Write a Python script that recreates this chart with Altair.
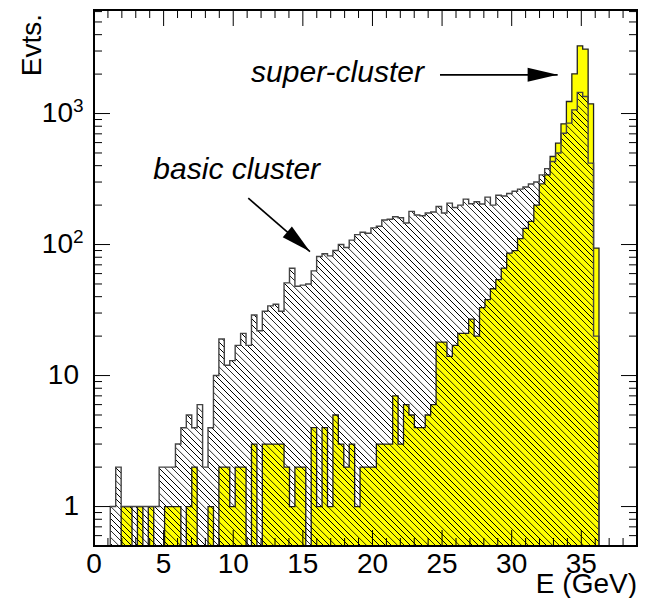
import math
import altair as alt
import pandas as pd

# ---------------- data ----------------
bin_width = 0.39          # GeV, 100 bins over [0, 39]
n_bins = 100

basic_cluster = [
    0, 0, 0, 1, 2, 1, 1, 1, 1, 1,
    1, 1, 2, 2, 2, 3, 4, 5, 4, 6,
    2, 4, 10, 19, 12, 13, 17, 21, 17, 29,
    22, 31, 34, 35, 31, 51, 66, 48, 49, 50,
    63, 81, 85, 82, 90, 100, 95, 108, 119, 124,
    122, 134, 138, 154, 156, 163, 160, 146, 179, 168,
    166, 174, 177, 195, 174, 207, 192, 200, 222, 205,
    212, 204, 230, 200, 238, 235, 245, 255, 265, 275,
    290, 300, 340, 380, 430, 500, 708, 845, 1067, 1450,
    1350, 418, 20,
]

super_cluster = [
    0, 0, 0, 0, 0, 1, 1, 0, 1, 0,
    1, 0, 0, 1, 1, 1, 0, 1, 2, 0,
    0, 1, 0, 2, 2, 1, 2, 2, 0, 3,
    0, 3, 3, 3, 3, 2, 1, 2, 2, 0,
    4, 1, 4, 1, 5, 3, 2, 3, 1, 2,
    2, 2, 3, 3, 3, 7, 3, 6, 5, 4,
    4, 5, 6, 18, 18, 14, 17, 21, 21, 27,
    20, 33, 38, 46, 54, 66, 86, 90, 111, 133,
    150, 200, 290, 340, 470, 594, 834, 1236, 2009, 3288,
    3103, 1186, 94,
]

x_ticks_major = [0, 5, 10, 15, 20, 25, 30, 35]
y_ticks_major = [1, 10, 100, 1000]

ann_text = ["super-cluster", "basic cluster"]
ann_text_x = [17.49, 10.25]
ann_text_y = [1755, 318]

arrow_x1 = [24.85, 11.08]
arrow_y1 = [1974, 226]
arrow_x2 = [33.3, 15.51]
arrow_y2 = [1974, 88.4]
arrow_angle = [0, 41]

x_title = "E (GeV)"
y_title = "Evts."

# ---------------- layout / scales ----------------
W, H = 543, 536
X_DOMAIN = [0, 39]
Y_MIN, Y_MAX = 0.5, 6170
FONT = "Liberation Sans"
FS = 28

xs = alt.Scale(domain=X_DOMAIN, nice=False, zero=False)
ys = alt.Scale(type="log", domain=[Y_MIN, Y_MAX], nice=False)


def hist_frame(counts):
    vals = list(counts) + [0] * (n_bins - len(counts))
    rows = [{"x": round(i * bin_width, 4), "v": (c if c > 0 else Y_MIN), "base": Y_MIN}
            for i, c in enumerate(vals)]
    rows.append({"x": X_DOMAIN[1], "v": Y_MIN, "base": Y_MIN})
    return pd.DataFrame(rows)


df_basic = hist_frame(basic_cluster)
df_super = hist_frame(super_cluster)


def ypix(v):
    return H - H * math.log10(v / Y_MIN) / math.log10(Y_MAX / Y_MIN)


# hatch (45 deg "\" lines) built as a striped linear gradient over the area's bbox
bw_ = float(W)
bh_ = H - ypix(max(basic_cluster))
alpha = (bw_ + bh_) / (bw_ ** 2 + bh_ ** 2)
span = bw_ + bh_
period = 6.2
stops = []
k = 0
clear = "rgba(0,0,0,0)"
while k * period < span:
    d0 = k * period
    for dd, col in [(0.0, clear), (0.3, "black"), (0.95, "black"), (1.25, clear)]:
        off = min((d0 + dd) / span, 1.0)
        stops.append(alt.GradientStop(color=col, offset=off))
    k += 1
hatch = alt.Gradient(gradient="linear", stops=stops,
                     x1=0, y1=1, x2=alpha * bw_, y2=1 - alpha * bh_)

X_ENC = dict(scale=xs, axis=None)
Y_ENC = dict(scale=ys, axis=None)

super_layer = alt.Chart(df_super).mark_area(
    interpolate="step-after", fill="#ffff00", stroke="#222222", strokeWidth=1.3, opacity=1
).encode(
    x=alt.X("x:Q", **X_ENC),
    y=alt.Y("v:Q", **Y_ENC),
    y2=alt.Y2("base:Q"),
)

basic_layer = alt.Chart(df_basic).mark_area(
    interpolate="step-after", fill=hatch, stroke="#444444", strokeWidth=1.4, opacity=1
).encode(
    x=alt.X("x:Q", **X_ENC),
    y=alt.Y("v:Q", **Y_ENC),
    y2=alt.Y2("base:Q"),
)

# inside ticks on all four sides
x_minor = [v for v in range(1, 39) if v % 5 != 0]
y_minor = [0.6, 0.7, 0.8, 0.9]
for dec in [1, 10, 100, 1000]:
    for m in range(2, 10):
        if dec * m < Y_MAX:
            y_minor.append(dec * m)

df_xmaj = pd.DataFrame({"t": x_ticks_major, "lab": [str(v) for v in x_ticks_major]})
df_xmin = pd.DataFrame({"t": x_minor})
df_ymaj = pd.DataFrame({"t": y_ticks_major})
df_ymin = pd.DataFrame({"t": y_minor})

MAJ, MIN = 16, 8
tick_layers = []
for dfx, L in [(df_xmaj, MAJ), (df_xmin, MIN)]:
    tick_layers.append(alt.Chart(dfx).mark_rule(color="black", strokeWidth=1).encode(
        x=alt.X("t:Q", **X_ENC), y=alt.value(H), y2=alt.value(H - L)))
    tick_layers.append(alt.Chart(dfx).mark_rule(color="black", strokeWidth=1).encode(
        x=alt.X("t:Q", **X_ENC), y=alt.value(0), y2=alt.value(L)))
for dfy, L in [(df_ymaj, MAJ), (df_ymin, MIN)]:
    tick_layers.append(alt.Chart(dfy).mark_rule(color="black", strokeWidth=1).encode(
        y=alt.Y("t:Q", **Y_ENC), x=alt.value(0), x2=alt.value(L)))
    tick_layers.append(alt.Chart(dfy).mark_rule(color="black", strokeWidth=1).encode(
        y=alt.Y("t:Q", **Y_ENC), x=alt.value(W), x2=alt.value(W - L)))

# frame
frame = alt.Chart(pd.DataFrame({"a": [0]})).mark_rect(
    fill=None, stroke="black", strokeWidth=2
).encode(x=alt.value(0), x2=alt.value(W), y=alt.value(0), y2=alt.value(H))

# tick labels as text
xlab = alt.Chart(df_xmaj).mark_text(
    font=FONT, fontSize=FS, align="center", baseline="alphabetic", color="black"
).encode(x=alt.X("t:Q", **X_ENC), y=alt.value(H + 27), text="lab:N")

exps = [int(round(math.log10(v))) for v in y_ticks_major]
df_ylab_plain = pd.DataFrame({"t": [v for v, e in zip(y_ticks_major, exps) if e < 2],
                              "lab": [str(v) for v, e in zip(y_ticks_major, exps) if e < 2]})
df_ylab_pow = pd.DataFrame({"t": [v for v, e in zip(y_ticks_major, exps) if e >= 2],
                            "base": ["10" for v, e in zip(y_ticks_major, exps) if e >= 2],
                            "exp": [str(e) for v, e in zip(y_ticks_major, exps) if e >= 2]})

ylab_plain = alt.Chart(df_ylab_plain).mark_text(
    font=FONT, fontSize=FS, align="right", baseline="middle", color="black"
).encode(y=alt.Y("t:Q", **Y_ENC), x=alt.value(-15), text="lab:N")
ylab_base = alt.Chart(df_ylab_pow).mark_text(
    font=FONT, fontSize=FS, align="right", baseline="middle", color="black"
).encode(y=alt.Y("t:Q", **Y_ENC), x=alt.value(-21), text="base:N")
ylab_exp = alt.Chart(df_ylab_pow).mark_text(
    font=FONT, fontSize=19, align="left", baseline="middle", color="black", dy=-8
).encode(y=alt.Y("t:Q", **Y_ENC), x=alt.value(-21), text="exp:N")

one = pd.DataFrame({"a": [0]})
xtitle = alt.Chart(one).mark_text(
    text=x_title, font=FONT, fontSize=FS, align="right", baseline="alphabetic", color="black"
).encode(x=alt.value(W), y=alt.value(H + 47))
ytitle = alt.Chart(one).mark_text(
    text=y_title, font=FONT, fontSize=FS, align="right", baseline="alphabetic", color="black",
    angle=270
).encode(x=alt.value(-53), y=alt.value(4))

# annotations
df_txt = pd.DataFrame({"lab": ann_text, "gx": ann_text_x, "gy": ann_text_y})
df_arr = pd.DataFrame({"x1": arrow_x1, "y1": arrow_y1, "x2": arrow_x2, "y2": arrow_y2,
                       "ang": arrow_angle})

txt_layer = alt.Chart(df_txt).mark_text(
    font=FONT, fontSize=30, fontStyle="italic", align="center", baseline="alphabetic", color="black"
).encode(
    x=alt.X("gx:Q", **X_ENC),
    y=alt.Y("gy:Q", **Y_ENC),
    text="lab:N",
)

arrow_line = alt.Chart(df_arr).mark_rule(color="black", strokeWidth=1.6).encode(
    x=alt.X("x1:Q", **X_ENC),
    y=alt.Y("y1:Q", **Y_ENC),
    x2="x2:Q",
    y2="y2:Q",
)

arrow_head = alt.Chart(df_arr).mark_point(
    shape="M0,0L-1,-0.233L-1,0.233Z", size=3600, filled=True, color="black", opacity=1
).encode(
    x=alt.X("x2:Q", **X_ENC),
    y=alt.Y("y2:Q", **Y_ENC),
    angle=alt.Angle("ang:Q", scale=None),
)

chart = alt.layer(
    super_layer, basic_layer, *tick_layers, frame,
    xlab, ylab_plain, ylab_base, ylab_exp, xtitle, ytitle,
    arrow_line, arrow_head, txt_layer
).properties(
    width=W, height=H,
    padding={"left": 86, "top": 2, "right": 5, "bottom": 52},
    autosize=alt.AutoSizeParams(type="none"),
    background="white",
).configure_view(stroke=None)

chart.save("out.html", embed_options={"renderer": "svg", "actions": False})
